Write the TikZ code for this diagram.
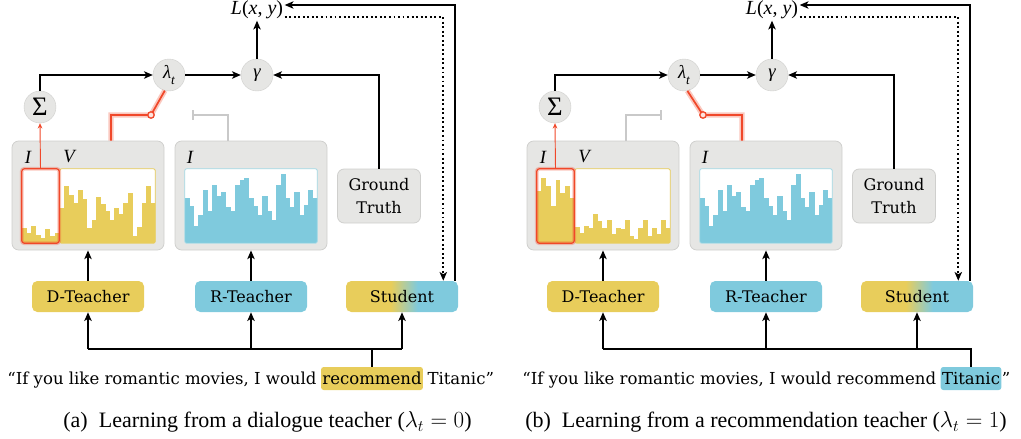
\documentclass[tikz,border=0pt]{standalone}
\usepackage{fontspec}
\setmainfont{Liberation Serif}
\newfontfamily\tw{DejaVu Serif}
\usetikzlibrary{arrows.meta,calc}
\definecolor{ylw}{HTML}{E8CD5B}
\definecolor{blu}{HTML}{7FCADD}
\definecolor{pnl}{HTML}{E6E6E4}
\definecolor{pnlb}{HTML}{CFCFCD}
\definecolor{rd}{HTML}{F0482A}
\definecolor{gry}{HTML}{C9C9C9}
\pgfdeclarehorizontalshading{stushade}{100bp}{color(0bp)=(ylw); color(45bp)=(ylw); color(57bp)=(blu); color(100bp)=(blu)}
\tikzset{
  pan/.style={draw=pnlb, fill=pnl, rounded corners=5pt, line width=0.6pt, minimum width=114pt, minimum height=81.75pt, inner sep=0},
  hbox/.style={minimum height=55.5pt, inner sep=0},
  circ/.style={circle, fill=pnl, draw=pnlb, line width=0.3pt, minimum size=24pt, inner sep=0, font=\fontsize{14}{16}\selectfont},
  tbox/.style={rounded corners=4pt, minimum width=84pt, minimum height=23.25pt, inner sep=0, font=\tw\fontsize{12}{14}\selectfont},
  gtbox/.style={rounded corners=5pt, fill=pnl, draw=pnlb, line width=0.6pt, minimum width=62.25pt, minimum height=40.5pt, inner sep=0, align=center, font=\tw\fontsize{12}{17}\selectfont},
  lbl/.style={font=\itshape\fontsize{14}{16}\selectfont, inner sep=0},
  sent/.style={font=\tw\fontsize{12.4}{14}\selectfont, inner sep=0},
  hl/.style={rounded corners=2pt, inner xsep=1pt, inner ysep=0pt, text height=12.75pt, text depth=4.5pt},
  capt/.style={font=\fontsize{16.5}{19}\selectfont, inner sep=0},
  ln/.style={line width=1.4pt},
  arr/.style={line width=1.4pt, -{Stealth[length=6.5pt,width=5.5pt,inset=1.6pt]}},
  redln/.style={draw=rd, line width=1.3pt, preaction={draw=rd, draw opacity=.3, line width=4pt}},
  grayln/.style={draw=gry, line width=1.3pt, -{Bar[width=7pt]}},
  swcirc/.style={circle, draw=rd, fill=rd!15, line width=1pt, minimum size=4.8pt, inner sep=0},
}
% histogram: node, colour, number of bars, heights (fraction of 74px)
\newcommand{\hist}[4]{%
  \begin{scope}
    \clip[rounded corners=1.5pt] (#1.south west) rectangle (#1.north east);
    \fill[white] (#1.south west) rectangle (#1.north east);
    \foreach \h [count=\i from 0] in {#4} {
      \fill[#2] ($(#1.south west)!{\i/#3}!(#1.south east)$) rectangle ($(#1.south west)!{(\i+1)/#3+0.004}!(#1.south east)+(0,-\h*74)$);
    }
  \end{scope}}
\newcommand{\panelbase}{%
  \node[pan] (dp) at (88,195.5) {};
  \node[pan] (rp) at (251,195.5) {};
  \node[lbl] (lI) at (28,157) {I};
  \node[lbl] (lV) at (69,157) {V};
  \node[lbl] (lIr) at (190,157) {I};
  \node[hbox, minimum width=27.75pt] (ib) at (40.5,206) {};
  \node[hbox, minimum width=71.25pt] (vb) at (107.5,206) {};
  \node[hbox, minimum width=99pt] (bb) at (251,206) {};
  \hist{bb}{blu}{29}{0.61,0.51,0.24,0.38,0.72,0.43,0.79,0.64,0.69,0.49,0.43,0.79,0.86,0.88,0.61,0.51,0.38,0.64,0.43,0.31,0.79,0.94,0.61,0.49,0.69,0.38,0.52,0.72,0.61}
  \draw[blu!70, line width=0.6pt, rounded corners=1.5pt] (bb.south west) rectangle (bb.north east);
  \node[circ] (sum) at (40,107) {\fontsize{20}{22}\selectfont Σ};
  \node[circ] (lam) at (169,75) {\itshape λ\raisebox{-0.28em}{\fontsize{10}{10}\selectfont t}};
  \node[circ] (gam) at (257,75) {\itshape γ};
  \node[inner sep=1pt, font=\fontsize{15}{17}\selectfont] (loss) at (257,10) {\textit{L}(\textit{x}, \textit{y})};
  \node[gtbox] (gt) at (379,196) {Ground\\Truth};
  \node[tbox, fill=ylw] (dt) at (88,296.5) {D-Teacher};
  \node[tbox, fill=blu] (rt) at (251,296.5) {R-Teacher};
  \node[tbox, shading=stushade] (st) at (402,296.5) {Student};
  \coordinate (bus) at (0,349);
  \draw[arr] (sum.north) |- (lam.west);
  \draw[arr] (lam.east) -- (gam.west);
  \draw[arr] (gt.north) |- (gam.east);
  \draw[arr] (gam.north) -- (loss.south);
  \draw[arr] ([xshift=-2.25pt]st.north east) |- ([yshift=3.75pt]loss.east);
  \draw[arr, dotted] ([yshift=-5.25pt]loss.east) -| ([xshift=-11.25pt]st.north east);
  \draw[arr] (dt.north) -- (dt.north |- dp.south);
  \draw[arr] (rt.north) -- (rt.north |- rp.south);
  \draw[ln] (dt.south |- bus) -- (st.south |- bus);
  \draw[arr] (dt.south |- bus) -- (dt.south);
  \draw[arr] (rt.south |- bus) -- (rt.south);
  \draw[arr] (st.south |- bus) -- (st.south);
}
\begin{document}
\begin{tikzpicture}[x=0.75pt, y=-0.75pt]
\useasboundingbox (0,0) rectangle (1021,439);
% ---------------- panel (a)
\begin{scope}[name prefix=a-]
  \panelbase
  \hist{ib}{ylw}{8}{0.2,0.14,0.23,0.11,0.07,0.19,0.1,0.14}
  \hist{vb}{ylw}{21}{0.47,0.78,0.65,0.55,0.72,0.60,0.20,0.31,0.63,0.53,0.43,0.32,0.47,0.39,0.54,0.68,0.10,0.22,0.55,0.78,0.55}
  \draw[ylw, line width=0.6pt, rounded corners=1.5pt] (vb.south west) rectangle (vb.north east);
  \draw[rd, draw opacity=.3, line width=2.8pt, rounded corners=2pt] (ib.south west) rectangle (ib.north east);
  \draw[rd, line width=0.9pt, rounded corners=2pt] (ib.south west) rectangle (ib.north east);
  \draw[rd, line width=0.7pt, -{Stealth[length=4pt,width=3.5pt]}] (ib.north) -- (sum.south);
  \coordinate (swp) at (151,115);
  \coordinate (gend) at (192,115);
  \draw[redln] ([xshift=17.25pt]dp.north) |- (swp) -- (lam.-105);
  \node[swcirc] (swc) at (swp) {};
  \draw[grayln] ([xshift=-17pt]rp.north) |- (gend);
  \node[sent, hl, fill=ylw, anchor=base] (hw) at (372,384) {recommend};
  \node[sent, anchor=base east] (s1) at ([xshift=-3pt]hw.base west) {“If you like romantic movies, I would};
  \node[sent, anchor=base west] (s3) at ([xshift=3pt]hw.base east) {Titanic”};
  \draw[ln] (hw.north) |- (st.south |- bus);
  \node[capt] (cap) at (267.5,422) {(a)\enspace Learning from a dialogue teacher ($\lambda_t = 0$)};
\end{scope}
% ---------------- panel (b)
\begin{scope}[shift={(515,0)}, name prefix=b-]
  \panelbase
  \hist{ib}{ylw}{8}{0.71,0.88,0.78,0.50,0.85,0.68,0.78,0.61}
  \hist{vb}{ylw}{21}{0.22,0.14,0.24,0.20,0.40,0.30,0.20,0.32,0.12,0.20,0.19,0.32,0.10,0.06,0.20,0.32,0.10,0.20,0.12,0.32,0.21}
  \draw[ylw, line width=0.6pt, rounded corners=1.5pt] (vb.south west) rectangle (vb.north east);
  \draw[rd, draw opacity=.3, line width=2.8pt, rounded corners=2pt] (ib.south west) rectangle (ib.north east);
  \draw[rd, line width=0.9pt, rounded corners=2pt] (ib.south west) rectangle (ib.north east);
  \draw[rd, line width=0.7pt, -{Stealth[length=4pt,width=3.5pt]}] (ib.north) -- (sum.south);
  \coordinate (swp) at (188,115);
  \coordinate (gend) at (147,115);
  \draw[redln] ([xshift=-18pt]rp.north) |- (swp) -- (lam.-78);
  \node[swcirc] (swc) at (swp) {};
  \draw[grayln] ([xshift=17.25pt]dp.north) |- (gend);
  \node[sent, hl, fill=blu, anchor=base] (hw) at (456,384) {Titanic};
  \node[sent, anchor=base east] (s1) at ([xshift=-3pt]hw.base west) {“If you like romantic movies, I would recommend};
  \node[sent, anchor=base west] (s3) at (hw.base east) {”};
  \draw[ln] (hw.north) |- (st.south |- bus);
  \node[capt] (cap) at (251,422) {(b)\enspace Learning from a recommendation teacher ($\lambda_t = 1$)};
\end{scope}
\end{tikzpicture}
\end{document}
